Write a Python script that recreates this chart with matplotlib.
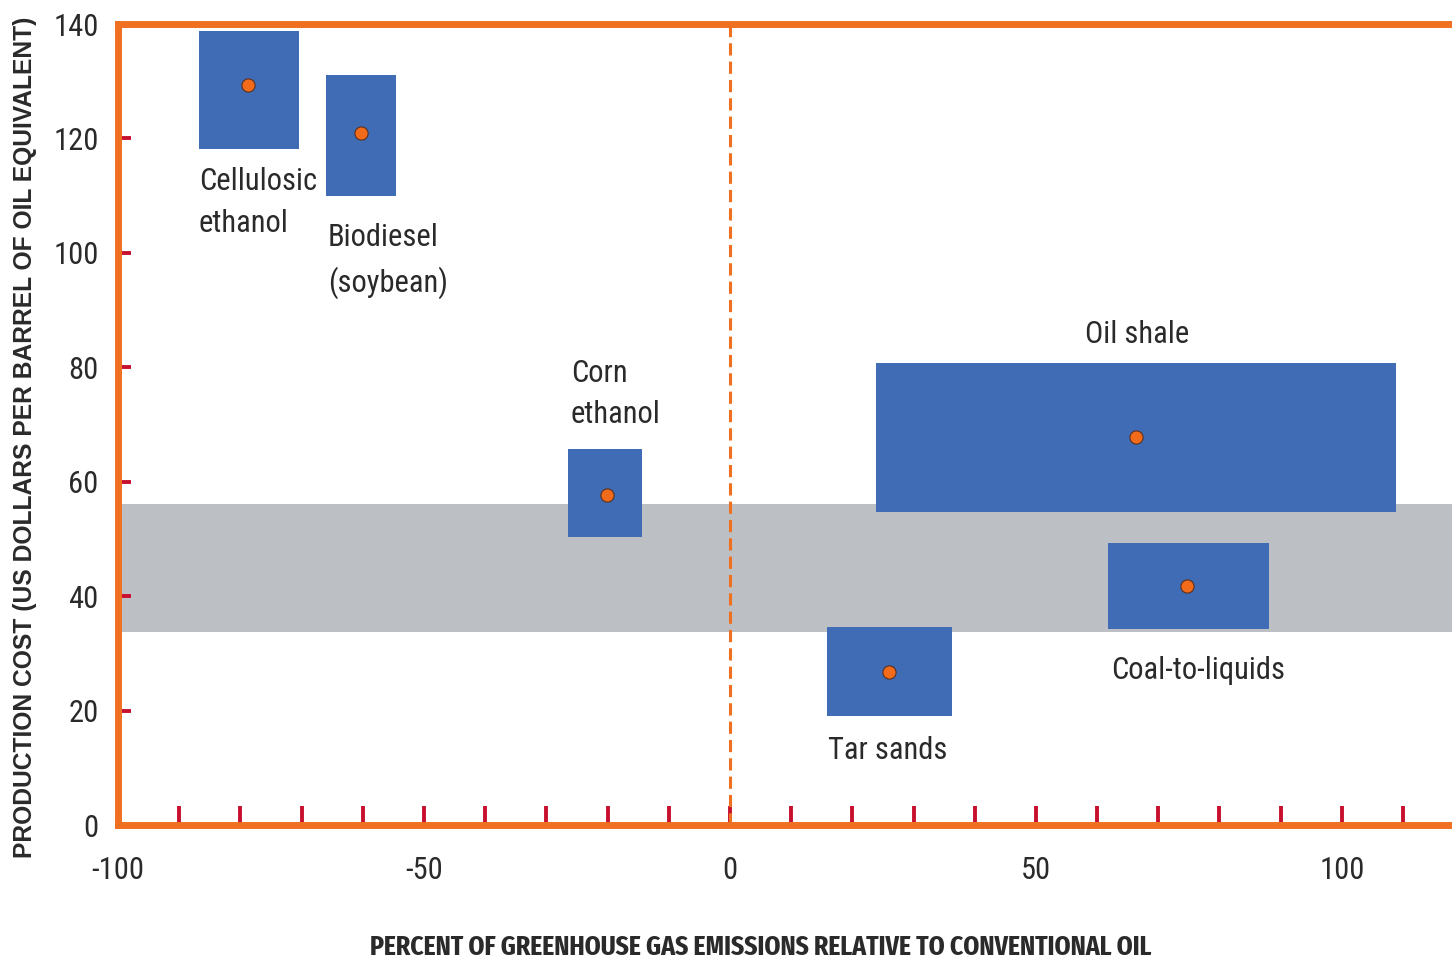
import matplotlib
matplotlib.use("Agg")
import matplotlib.pyplot as plt
from matplotlib.patches import Rectangle

# Kosten en uitstoot van alternatieve brandstoffen
names = ["Cellulosic ethanol", "Biodiesel (soybean)", "Corn ethanol",
         "Oil shale", "Coal-to-liquids", "Tar sands"]
ghg_low = [-86.8, -66.0, -26.5, 23.9, 61.8, 15.8]
ghg_high = [-70.4, -54.6, -14.4, 108.8, 88.1, 36.3]
cost_low = [118.2, 110.0, 50.3, 54.7, 34.3, 19.1]
cost_high = [138.8, 131.1, 65.7, 80.8, 49.3, 34.6]
ghg_mid = [-78.8, -60.3, -20.1, 66.3, 74.7, 26.0]
cost_mid = [129.4, 121.0, 57.7, 67.8, 41.8, 26.7]

# grijze band: prijs van conventionele olie
oil_band = (33.7, 56.1)

x_major = [-100, -50, 0, 50, 100]
x_minor = [-90, -80, -70, -60, -40, -30, -20, -10, 10, 20, 30, 40, 60, 70, 80, 90, 110]
y_ticks = [0, 20, 40, 60, 80, 100, 120, 140]

# labels met positie (x, y, tekst, ha, va)
labels = [
    (-86.8, 115.0, "Cellulosic\nethanol", "left", "top"),
    (-65.7, 105.2, "Biodiesel\n(soybean)", "left", "top"),
    (-26.0, 81.5, "Corn\nethanol", "left", "top"),
    (66.5, 85.8, "Oil shale", "center", "center"),
    (62.3, 27.0, "Coal-to-liquids", "left", "center"),
    (16.0, 13.0, "Tar sands", "left", "center"),
]

# smalle letters; valt terug op DejaVu als Roboto Condensed ontbreekt
plt.rcParams["font.family"] = ["Roboto Condensed", "DejaVu Sans"]

ORANGE = "#f07022"
BLUE = "#3f6cb4"
GREY = "#bcc0c4"
RED = "#c8102e"
TEXT = "#2a2a2a"

fig = plt.figure(figsize=(14.52, 9.63), dpi=100)
ax = fig.add_axes([118 / 1452, 1 - 825 / 963, 1 - 118 / 1452, (825 - 24) / 963])
ax.set_xlim(-100, 118)
ax.set_ylim(0, 140)

ax.axhspan(oil_band[0], oil_band[1], color=GREY, zorder=0.5, lw=0)

for x0, x1, y0, y1 in zip(ghg_low, ghg_high, cost_low, cost_high):
    ax.add_patch(Rectangle((x0, y0), x1 - x0, y1 - y0, facecolor=BLUE,
                           edgecolor="none", zorder=1))

ax.plot(ghg_mid, cost_mid, linestyle="none", marker="o", markersize=9.5,
        markerfacecolor="#f26b1a", markeredgecolor="#5a3020", markeredgewidth=0.8,
        zorder=4)

ax.axvline(0, color=ORANGE, lw=2.2, dashes=(4, 2), zorder=3)

for x, y, txt, ha, va in labels:
    ax.text(x, y, txt, ha=ha, va=va, fontsize=22, color=TEXT, linespacing=1.55)

# assen opmaak
for side in ["left", "bottom", "top"]:
    ax.spines[side].set_color(ORANGE)
    ax.spines[side].set_linewidth(5)
    ax.spines[side].set_zorder(5)
ax.spines["right"].set_visible(False)

ax.set_xticks(x_major)
ax.set_xticks(x_minor, minor=True)
ax.set_xticklabels([str(v) for v in x_major])
ax.set_yticks(y_ticks)
ax.set_yticklabels([str(v) for v in y_ticks])

ax.tick_params(axis="x", which="both", direction="in", length=13.5, width=2.8,
               color=RED, pad=22, labelsize=22, labelcolor=TEXT)
ax.tick_params(axis="y", which="both", direction="in", length=9.5, width=2.8,
               color=RED, pad=14, labelsize=22, labelcolor=TEXT)

fig.text(25 / 1452, 1 - 437 / 963,
         "PRODUCTION COST (US DOLLARS PER BARREL OF OIL EQUIVALENT)",
         rotation=90, ha="center", va="center", fontsize=17.7, fontweight="bold",
         color=TEXT, family=["Liberation Sans", "DejaVu Sans"])
fig.text(761 / 1452, 1 - 947 / 963,
         "PERCENT OF GREENHOUSE GAS EMISSIONS RELATIVE TO CONVENTIONAL OIL",
         ha="center", va="center", fontsize=20, fontweight="bold", color=TEXT,
         family=["Fira Sans Extra Condensed", "Roboto Condensed", "DejaVu Sans"])

fig.savefig("out.png", dpi=100)
